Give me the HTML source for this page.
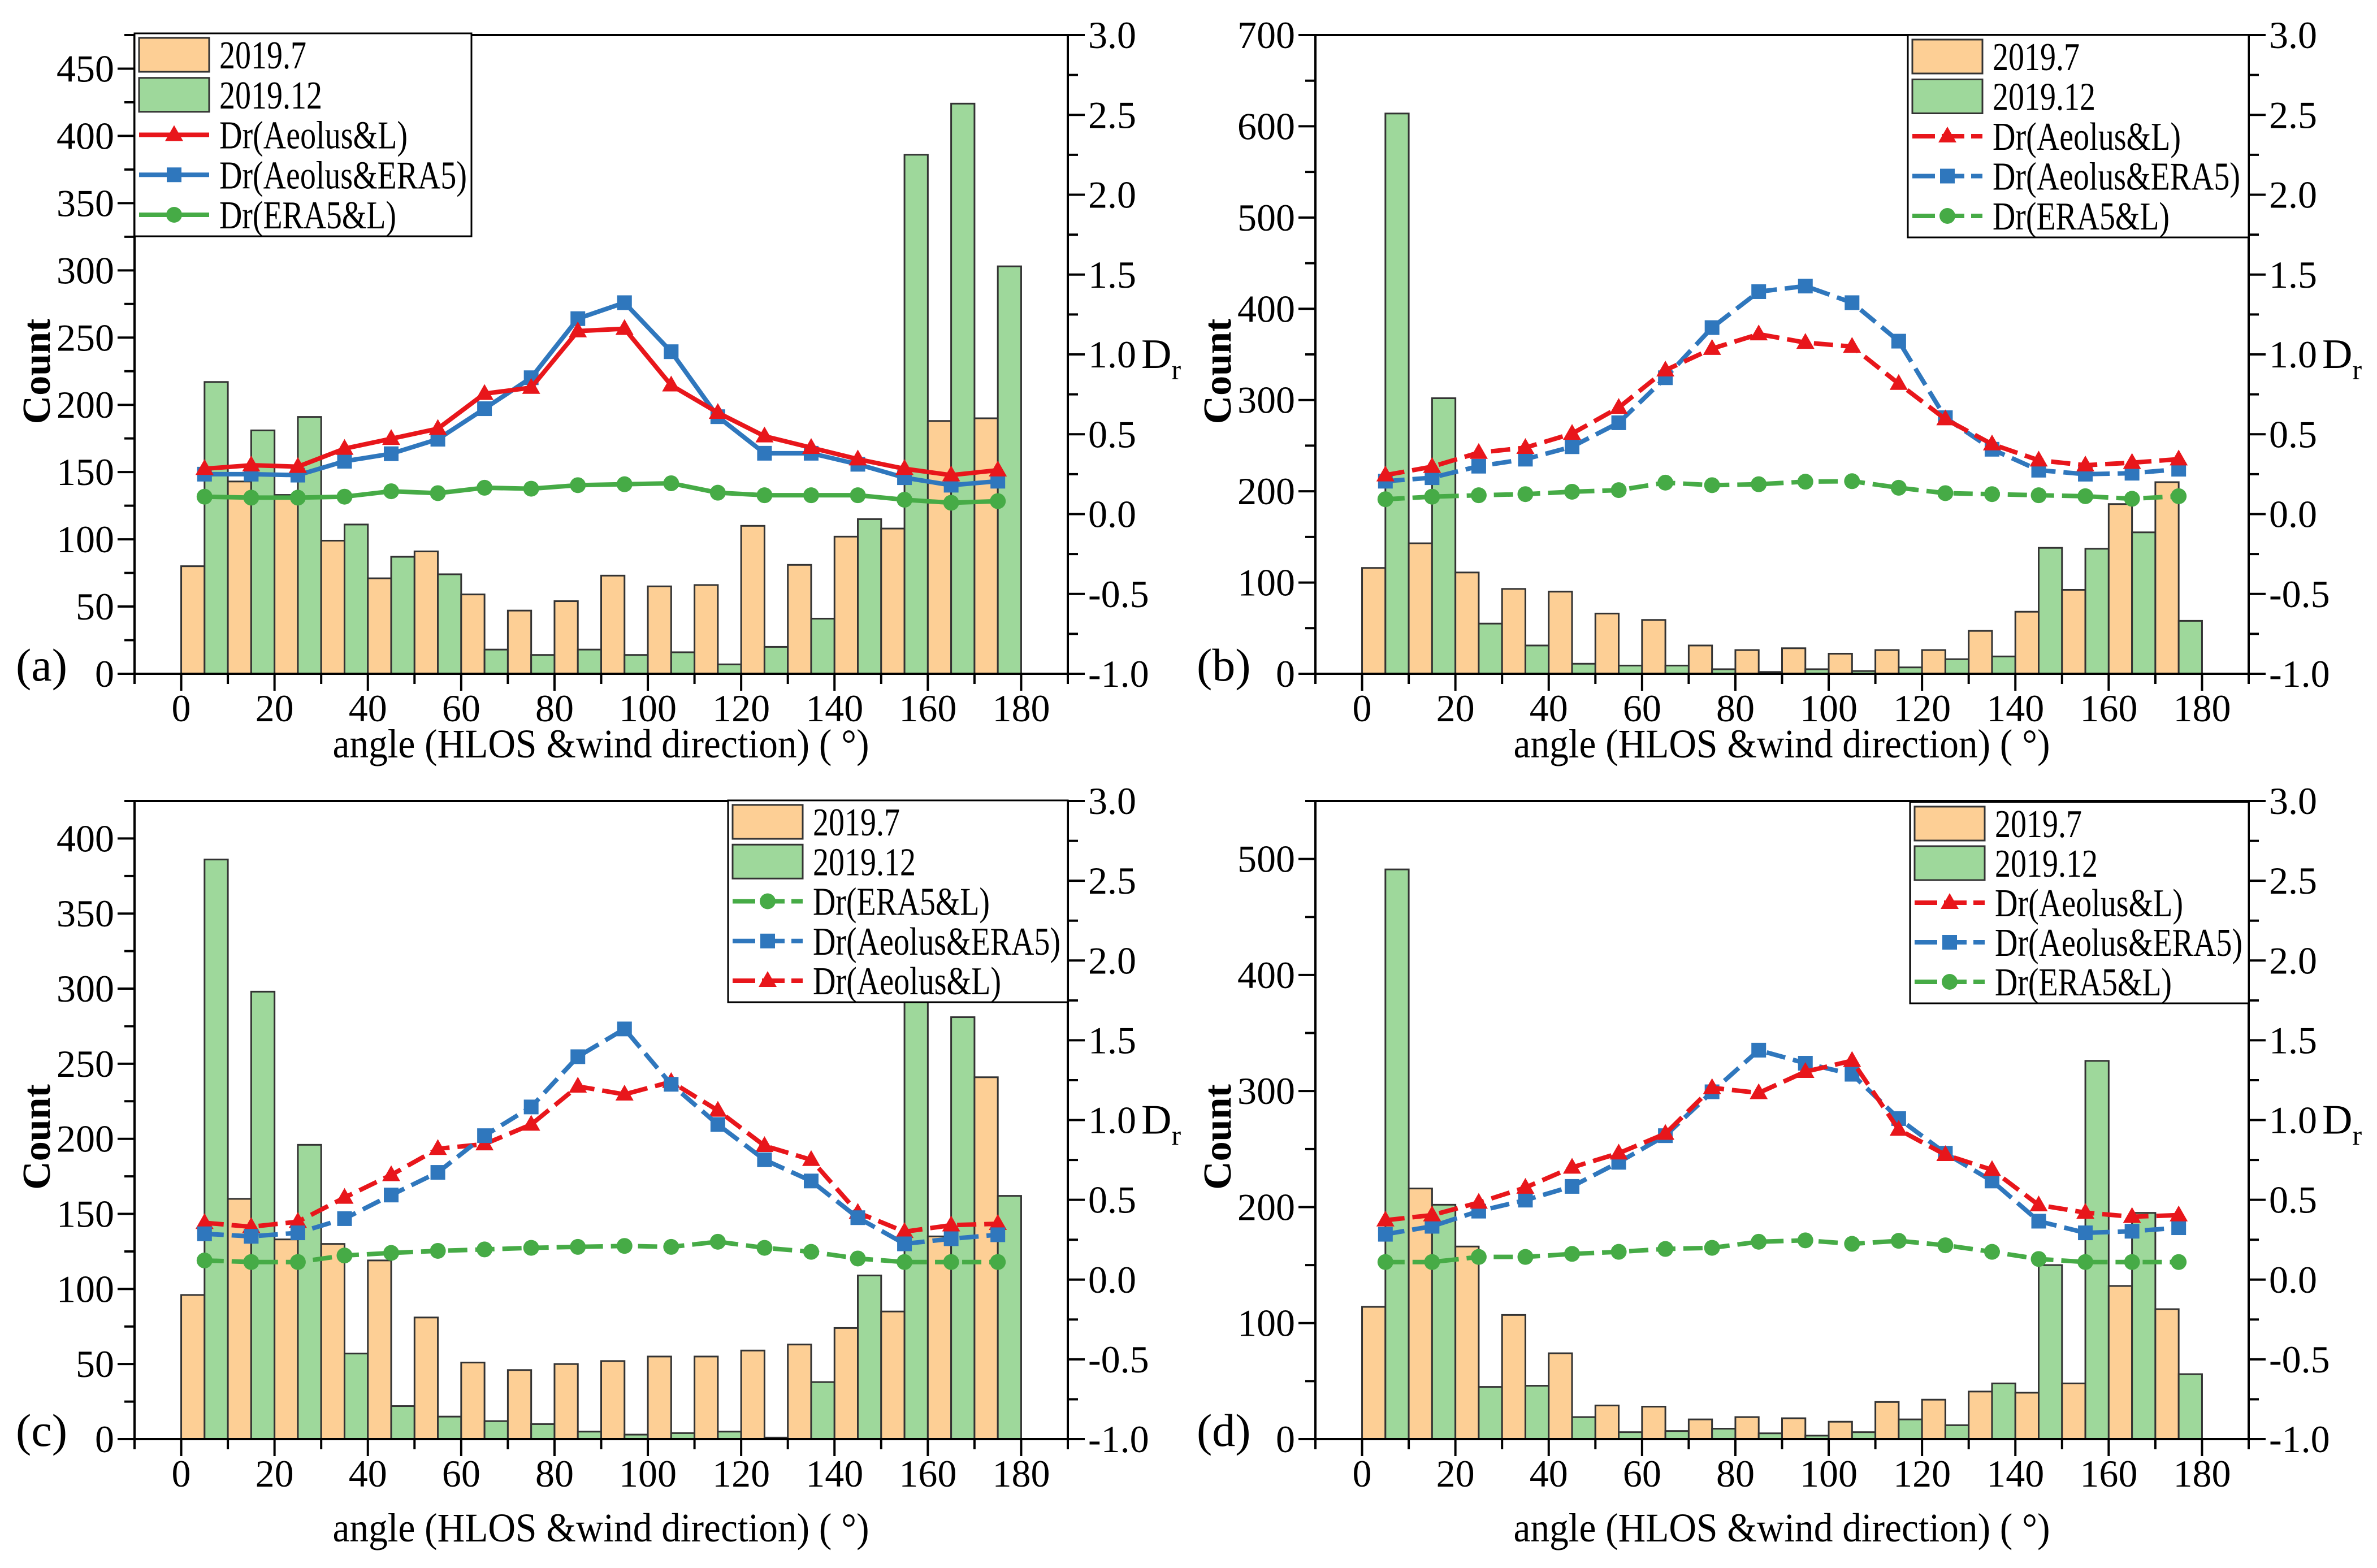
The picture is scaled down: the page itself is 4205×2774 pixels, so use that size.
<!DOCTYPE html>
<html><head><meta charset="utf-8"><style>
html,body{margin:0;padding:0;background:#fff;}
svg, svg text{font-family:"Liberation Serif","DejaVu Serif",serif;}
</style></head><body>
<svg id="chart" width="4205" height="2769" viewBox="0 0 4205 2769" xmlns="http://www.w3.org/2000/svg" font-family="Liberation Serif, DejaVu Serif, serif"></svg>
<script>
// ---- data (bins 0..170, step 10) ----
const binStarts = [0,10,20,30,40,50,60,70,80,90,100,110,120,130,140,150,160,170];
const xTicks = [0,20,40,60,80,100,120,140,160,180];
const rightTicks = [-1.0,-0.5,0.0,0.5,1.0,1.5,2.0,2.5,3.0];
const rightTickLabels = ["-1.0","-0.5","0.0","0.5","1.0","1.5","2.0","2.5","3.0"];

const aJul = [80,143,133,99,71,91,59,47,54,73,65,66,110,81,102,108,188,190];
const aDec = [217,181,191,111,87,74,18,14,18,14,16,7,20,41,115,386,424,303];
const aRed = [0.284,0.306,0.297,0.41,0.472,0.535,0.754,0.792,1.146,1.161,0.807,0.635,0.488,0.416,0.344,0.284,0.244,0.275];
const aBlue = [0.25,0.25,0.244,0.331,0.378,0.469,0.66,0.854,1.224,1.324,1.017,0.61,0.381,0.381,0.312,0.228,0.181,0.206];
const aGreen = [0.109,0.103,0.103,0.109,0.143,0.131,0.165,0.159,0.181,0.187,0.193,0.134,0.118,0.118,0.118,0.09,0.071,0.081];
const aTicks = [0,50,100,150,200,250,300,350,400,450];

const bJul = [116,143,111,93,90,66,59,31,26,28,22,26,26,47,68,92,186,210];
const bDec = [614,302,55,31,11,9,9,5,2,5,3,7,16,19,138,137,155,58];
const bRed = [0.244,0.297,0.385,0.416,0.504,0.667,0.901,1.036,1.127,1.074,1.049,0.817,0.595,0.438,0.337,0.306,0.322,0.344];
const bBlue = [0.206,0.228,0.3,0.344,0.422,0.572,0.854,1.168,1.393,1.428,1.324,1.083,0.604,0.406,0.275,0.25,0.256,0.281];
const bGreen = [0.093,0.109,0.118,0.125,0.14,0.15,0.197,0.181,0.187,0.203,0.206,0.165,0.131,0.125,0.118,0.112,0.096,0.112];
const bTicks = [0,100,200,300,400,500,600,700];

const cJul = [96,160,133,130,119,81,51,46,50,52,55,55,59,63,74,85,135,241];
const cDec = [386,298,196,57,22,15,12,10,5,3,4,5,1,38,109,310,281,162];
const cRed = [0.356,0.331,0.363,0.514,0.656,0.82,0.849,0.972,1.211,1.161,1.24,1.06,0.839,0.751,0.42,0.3,0.341,0.35];
const cBlue = [0.287,0.271,0.293,0.382,0.53,0.672,0.902,1.082,1.397,1.571,1.224,0.972,0.751,0.618,0.388,0.224,0.256,0.281];
const cGreen = [0.12,0.11,0.11,0.151,0.167,0.18,0.189,0.199,0.205,0.211,0.205,0.237,0.199,0.174,0.132,0.11,0.11,0.11];
const cTicks = [0,50,100,150,200,250,300,350,400];

const dJul = [114,216,166,107,74,29,28,17,19,18,15,32,34,41,40,48,132,112];
const dDec = [491,202,45,46,19,6,7,9,5,3,6,17,12,48,150,326,195,56];
const dRed = [0.372,0.404,0.483,0.577,0.703,0.792,0.915,1.202,1.17,1.303,1.372,0.94,0.782,0.688,0.467,0.42,0.394,0.404];
const dBlue = [0.284,0.334,0.429,0.498,0.584,0.735,0.902,1.177,1.438,1.356,1.287,1.009,0.792,0.618,0.366,0.293,0.303,0.325];
const dGreen = [0.11,0.11,0.142,0.142,0.161,0.174,0.192,0.199,0.237,0.246,0.224,0.243,0.215,0.174,0.129,0.11,0.11,0.11];
const dTicks = [0,100,200,300,400,500];

const NS = "http://www.w3.org/2000/svg";
const svg = document.getElementById("chart");
const FONT = "Liberation Serif, DejaVu Serif, serif";
function mk(tag, attrs, parent, text){
  const e = document.createElementNS(NS, tag);
  for (const k in attrs) e.setAttribute(k, attrs[k]);
  if (tag === "text") e.setAttribute("font-family", FONT);
  if (text !== undefined) e.textContent = text;
  (parent || svg).appendChild(e);
  return e;
}
const C = {jul:"#fdcf95", dec:"#9ed89b", red:"#e8161b", blue:"#2f77bd", green:"#46ab46"};
const legendWidths = {"2019.7":154, "2019.12":182, "Dr(Aeolus&L)":333, "Dr(Aeolus&ERA5)":438, "Dr(ERA5&L)":313};

function marker(g, type, x, y, color){
  let m;
  if (type === "tri") m = mk("polygon", {points:`${x},${y-17} ${x-16},${y+11} ${x+16},${y+11}`, fill:color}, g);
  else if (type === "sq") m = mk("rect", {x:x-13, y:y-13, width:26, height:26, fill:color}, g);
  else m = mk("circle", {cx:x, cy:y, r:14, fill:color}, g);
  return m;
}

function panel(p){
  const g = mk("g", {});
  
  
  const L=p.L, R=p.R, T=p.T, B=p.B;
  const xs = v => L + (v + 10) / 200 * (R - L);
  const ys = v => B - v / p.ymax * (B - T);
  const yr = v => B - (v + 1) / 4 * (B - T);

  const bars = mk("g", {}, g);
  
  
  binStarts.forEach((s, i) => {
    const r1 = mk("rect", {x:xs(s), y:ys(p.jul[i]), width:xs(s+5)-xs(s), height:B-ys(p.jul[i]), fill:C.jul, stroke:"#333", "stroke-width":3}, bars);
    
    
    const r2 = mk("rect", {x:xs(s+5), y:ys(p.dec[i]), width:xs(s+10)-xs(s+5), height:B-ys(p.dec[i]), fill:C.dec, stroke:"#333", "stroke-width":3}, bars);
    
    
  });

  const dash = p.dashed ? "34 14" : "none";
  const series = [[p.red, C.red, "tri", "line-dr-aeolus-l"], [p.blue, C.blue, "sq", "line-dr-aeolus-era5"], [p.green, C.green, "circ", "line-dr-era5-l"]];
  const order = p.id === "c" ? [2,1,0] : [0,1,2];
  order.slice().reverse().forEach(k => {
    const [vals, col, mt, nm] = series[k];
    const sg = mk("g", {}, g);
    
    
    const pts = vals.map((v, i) => `${xs(binStarts[i]+5)},${yr(v)}`).join(" ");
    mk("polyline", {points:pts, fill:"none", stroke:col, "stroke-width":8, "stroke-dasharray":dash, "stroke-linejoin":"round"}, sg);
    vals.forEach((v, i) => {
      const m = marker(sg, mt, xs(binStarts[i]+5), yr(v), col);
      
      
    });
  });

  const ax = mk("g", {stroke:"#000", "stroke-width":4, fill:"none"}, g);
  
  
  mk("rect", {x:L, y:T, width:R-L, height:B-T}, ax);

  const xt = mk("g", {}, g);
  
  
  for (let v = -10; v <= 190; v += 10) {
    const major = xTicks.indexOf(v) >= 0;
    mk("line", {x1:xs(v), x2:xs(v), y1:B, y2:B+(major?30:18), stroke:"#000", "stroke-width":4}, xt);
  }
  xTicks.forEach(v => {
    const t = mk("text", {x:xs(v), y:B+84, "font-size":68, "text-anchor":"middle"}, xt, String(v));
    
    
  });
  const xl = mk("text", {x:(L+R)/2 - 475, y:p.xlabY, "font-size":72, textLength:949, lengthAdjust:"spacingAndGlyphs"}, g, "angle (HLOS &wind direction) ( \u00B0)");
  
  

  const lt = mk("g", {}, g);
  
  
  const step = p.ticks[1] - p.ticks[0];
  for (let v = 0; v <= p.ymax + 0.01; v += step / 2) {
    const major = Math.abs(v / step - Math.round(v / step)) < 0.01;
    mk("line", {x1:L, x2:L-(major?30:18), y1:ys(v), y2:ys(v), stroke:"#000", "stroke-width":4}, lt);
  }
  p.ticks.forEach(v => {
    const t = mk("text", {x:L-36, y:ys(v)+23, "font-size":68, "text-anchor":"end"}, lt, String(v));
    
    
  });
  const cy = (T+B)/2 + 30;
  const yl = mk("text", {x:L-150, y:cy, "font-size":70, "font-weight":"bold", "text-anchor":"middle", transform:`rotate(-90 ${L-150} ${cy})`}, g, "Count");
  
  

  const rt = mk("g", {}, g);
  
  
  for (let v = -1; v <= 3.001; v += 0.25) {
    const major = Math.abs(v*2 - Math.round(v*2)) < 0.01;
    mk("line", {x1:R, x2:R+(major?30:18), y1:yr(v), y2:yr(v), stroke:"#000", "stroke-width":4}, rt);
  }
  rightTicks.forEach((v, i) => {
    const t = mk("text", {x:R+36, y:yr(v)+23, "font-size":68}, rt, rightTickLabels[i]);
    
    
  });
  const dr = mk("text", {x:R+130, y:yr(1.0)+24, "font-size":74}, g);
  
  
  mk("tspan", {}, dr, "D");
  mk("tspan", {"font-size":50, dy:20}, dr, "r");

  const pl = mk("text", {x:L-210, y:B+12, "font-size":82}, g, "(" + p.id + ")");
  
  

  const lg = mk("g", {}, g);
  
  
  mk("rect", {x:p.lx, y:p.ly, width:p.lw, height:p.lh, fill:"#fff", stroke:"#000", "stroke-width":3}, lg);
  const entries = [["2019.7","bar",C.jul],["2019.12","bar",C.dec]];
  const lineEntries = {red:["Dr(Aeolus&L)","tri",C.red], blue:["Dr(Aeolus&ERA5)","sq",C.blue], green:["Dr(ERA5&L)","circ",C.green]};
  p.legOrder.forEach(k => entries.push(lineEntries[k]));
  entries.forEach((e, i) => {
    const cyy = p.ly + 38 + i * (p.lh - 76) / 4;
    const eg = mk("g", {}, lg);
    
    
    if (e[1] === "bar") {
      mk("rect", {x:p.lx+8, y:cyy-30, width:124, height:60, fill:e[2], stroke:"#333", "stroke-width":3}, eg);
    } else {
      mk("line", {x1:p.lx+8, x2:p.lx+132, y1:cyy, y2:cyy, stroke:e[2], "stroke-width":8, "stroke-dasharray":p.dashed?"40 12":"none"}, eg);
      marker(eg, e[1], p.lx+70, cyy, e[2]);
    }
    mk("text", {x:p.lx+150, y:cyy+24, "font-size":70, textLength:legendWidths[e[0]], lengthAdjust:"spacingAndGlyphs"}, eg, e[0]);
  });
}

panel({id:"a", L:238, R:1889, T:62, B:1192, ymax:475, ticks:aTicks, jul:aJul, dec:aDec, red:aRed, blue:aBlue, green:aGreen, dashed:false, xlabY:1340, lx:238, ly:59, lw:596, lh:359, legOrder:["red","blue","green"]});
panel({id:"b", L:2327, R:3978, T:62, B:1192, ymax:700, ticks:bTicks, jul:bJul, dec:bDec, red:bRed, blue:bBlue, green:bGreen, dashed:true, xlabY:1340, lx:3375, ly:62, lw:603, lh:358, legOrder:["red","blue","green"]});
panel({id:"c", L:238, R:1889, T:1417, B:2546, ymax:425, ticks:cTicks, jul:cJul, dec:cDec, red:cRed, blue:cBlue, green:cGreen, dashed:true, xlabY:2727, lx:1288, ly:1416, lw:601, lh:357, legOrder:["green","blue","red"]});
panel({id:"d", L:2327, R:3978, T:1417, B:2546, ymax:550, ticks:dTicks, jul:dJul, dec:dDec, red:dRed, blue:dBlue, green:dGreen, dashed:true, xlabY:2727, lx:3379, ly:1419, lw:599, lh:356, legOrder:["red","blue","green"]});
</script>
</body></html>
